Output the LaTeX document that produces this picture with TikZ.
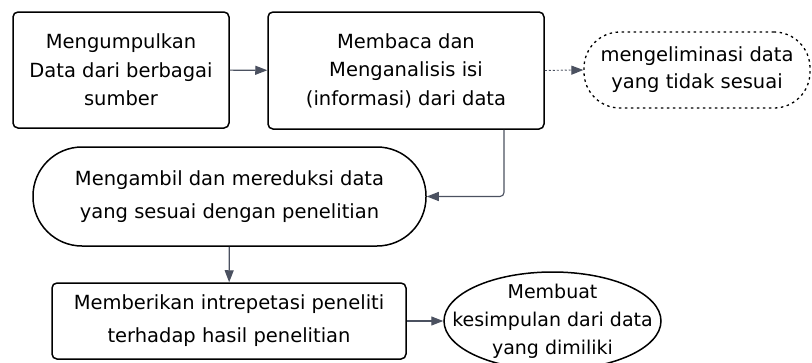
\documentclass[tikz,border=0pt]{standalone}
\usepackage{fontspec}
\setmainfont{DejaVu Sans}
\usetikzlibrary{shapes.geometric,arrows.meta,calc}
\definecolor{arrcol}{HTML}{4B5160}
\begin{document}
\begin{tikzpicture}[x=1pt,y=-1pt,
  txt/.style={align=center,inner sep=0pt,font=\fontsize{19.5}{28.5}\selectfont},
  wide/.style={font=\fontsize{19.5}{33}\selectfont},
  box/.style={txt,draw=black,line width=1.5pt,rounded corners=5pt},
  arr/.style={draw=arrcol,line width=1.1pt,-{Triangle[length=12pt,width=9pt]}},
]
\useasboundingbox (0,0) rectangle (812,362);
\node[box,minimum width=216pt,minimum height=116pt] (a) at (121,70) {Mengumpulkan\\Data dari berbagai\\sumber};
\node[box,minimum width=276pt,minimum height=117pt] (b) at (406,70.5) {Membaca dan\\Menganalisis isi\\(informasi) dari data};
\node[draw=black,line width=1.3pt,dash pattern=on 2.5pt off 3.5pt,rounded corners=36pt,minimum width=226pt,minimum height=76pt,inner sep=0pt,label={[txt,font=\fontsize{19.5}{27}\selectfont]center:{mengeliminasi data\\yang tidak sesuai}}] (e) at (697,70) {};
\node[box,wide,rounded corners=49pt,minimum width=393pt,minimum height=99pt] (c) at (229.5,196.5) {Mengambil dan mereduksi data\\yang sesuai dengan penelitian};
\node[box,wide,minimum width=354pt,minimum height=76pt] (d) at (229,321) {Memberikan intrepetasi peneliti\\terhadap hasil penelitian};
\node[ellipse,draw=black,line width=1.5pt,inner sep=0pt,minimum width=217pt,minimum height=98pt,label={[txt,font=\fontsize{19}{28}\selectfont]center:{Membuat\\kesimpulan dari data\\yang dimiliki}}] (f) at (552.5,321) {};
\draw[arr] (a) -- (b);
\draw[draw=arrcol,line width=0.9pt,dash pattern=on 2pt off 2pt] (b.east) -- ($(e.west)+(-11,0)$);
\draw[arr,shorten <=28pt] (b.east) -- (e.west);
\draw[arr,rounded corners=4pt] ($(b.south)+(98,0)$) |- (c.east);
\draw[arr] (c) -- (d);
\draw[arr] (d) -- (f);
\end{tikzpicture}
\end{document}
